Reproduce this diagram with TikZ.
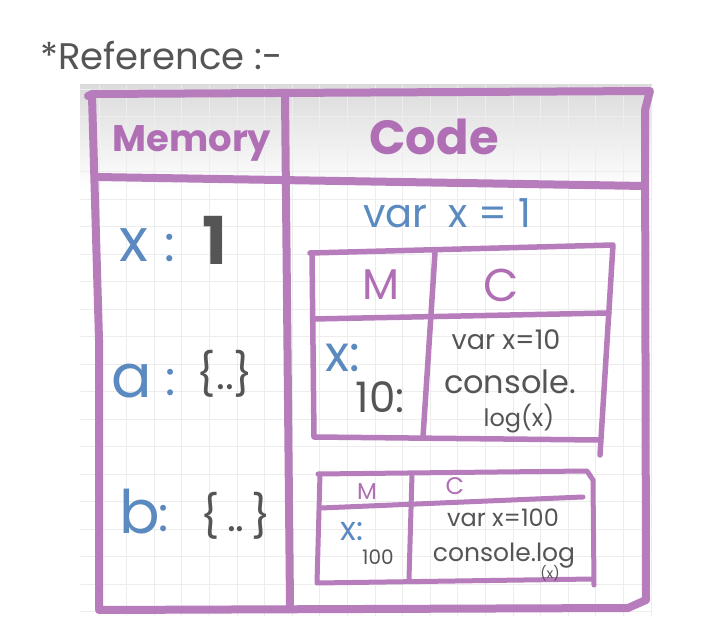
\documentclass[tikz,border=0pt]{standalone}
\usepackage{fontspec}
\setmainfont{Poppins}
\definecolor{lineP}{HTML}{B67CBB}
\definecolor{textP}{HTML}{B06FB4}
\definecolor{inkB}{HTML}{5B8AC0}
\definecolor{inkD}{HTML}{555555}
\definecolor{gridC}{HTML}{EDEDED}
\tikzset{
  frame/.style={draw=lineP, line width=8pt, line cap=round, line join=round},
  inner/.style={draw=lineP, line width=5.5pt, line cap=round, line join=round},
  small/.style={draw=lineP, line width=5pt, line cap=round, line join=round},
  txt/.style={inner sep=0pt, anchor=base},
}
\newcommand{\fs}[1]{\fontsize{#1}{#1}\selectfont}
\begin{document}
\begin{tikzpicture}[x=1pt,y=-1pt]
\useasboundingbox (0,0) rectangle (724,639);
\fill[white] (0,0) rectangle (724,639);
% paper with top shadow
\shade[top color=black!14, bottom color=white] (80,85) rectangle (652,190);
\begin{scope}
\clip (80,85) rectangle (652,616);
\foreach \k in {0,...,20} { \draw[gridC, line width=1pt] (99+27.6*\k,85) -- (99+27.6*\k,616); }
\foreach \k in {0,...,19} { \draw[gridC, line width=1pt] (80,89.2+27.5*\k) -- (652,89.2+27.5*\k); }
\end{scope}
% title
\node[txt, anchor=base west, text=inkD] (title) at (40,70) {\fs{37}*Reference :-};
% outer frame
\draw[frame] (88,96) -- (92,94) -- (650,91) -- (645,110) -- (646,600) -- (628,608) -- (99,610) -- (99,340) -- (92,96);
\draw[frame] (285,95) -- (290,605);
\draw[frame] (96,177) -- (645,186);
% headers
\node[txt, text=textP] (mem) at (192,152) {\fs{37}\bfseries Memory};
\node[txt, text=textP] (code) at (434,155) {\fs{48}\bfseries Code};
% memory entries
\node[txt, text=inkB] (xm) at (134,262) {\fs{60}x};
\node[txt, text=inkB] (xc) at (170,262) {\fs{50}:};
\node[txt, text=inkD] (xv) at (215,265) {\fs{66}\bfseries 1};
\node[txt, text=inkB] (am) at (132,398) {\fs{60}a};
\node[txt, text=inkB] (ac) at (171,396) {\fs{48}:};
\node[txt, text=inkD] (av) at (225,390) {\fs{42}\{..\}};
\node[txt, text=inkB] (bm) at (140,533) {\fs{60}b};
\node[txt, text=inkB] (bc) at (164,531) {\fs{48}:};
\node[txt, text=inkD] (bv) at (236,532) {\fs{42}\{\,..\,\}};
% code line
\node[txt, text=inkB] (vx) at (447,228) {\fs{40}var\ \ x = 1};
% inner box 1
\draw[inner] (310,253) -- (613,245) -- (600,455);
\draw[inner] (312,253) -- (314,437) -- (598,440);
\draw[inner] (435,253) -- (423,437);
\draw[inner] (313,319) -- (609,313);
\node[txt, text=textP] (m1) at (381,300) {\fs{43}M};
\node[txt, text=textP] (c1) at (501,302) {\fs{46}C};
\node[txt, text=inkB] (x1) at (343,372) {\fs{50}x:};
\node[txt, text=inkD] (v1) at (380,413) {\fs{42}10:};
\node[txt, text=inkD] (k1) at (506,350) {\fs{27}var\ x=10};
\node[txt, text=inkD] (k2) at (510,394) {\fs{32}console.};
\node[txt, text=inkD] (k3) at (519,427) {\fs{24}log(x)};
% inner box 2
\draw[small] (318,474) -- (587,471) -- (593,480) -- (594,585);
\draw[small] (320,474) -- (317,583) -- (593,579);
\draw[small] (412,474) -- (409,579);
\draw[small] (321,508) -- (583,497);
\node[txt, text=textP] (m2) at (367,500) {\fs{23}M};
\node[txt, text=textP] (c2) at (455,495) {\fs{24}C};
\node[txt, text=inkB] (x2) at (352,540) {\fs{33}x:};
\node[txt, text=inkD] (v2) at (378,564) {\fs{20}100};
\node[txt, text=inkD] (k4) at (503,526) {\fs{24}var\ x=100};
\node[txt, text=inkD] (k5) at (504,561) {\fs{25}console.log};
\node[txt, text=inkD] (k6) at (550,578) {\fs{14}(x)};
\end{tikzpicture}
\end{document}
